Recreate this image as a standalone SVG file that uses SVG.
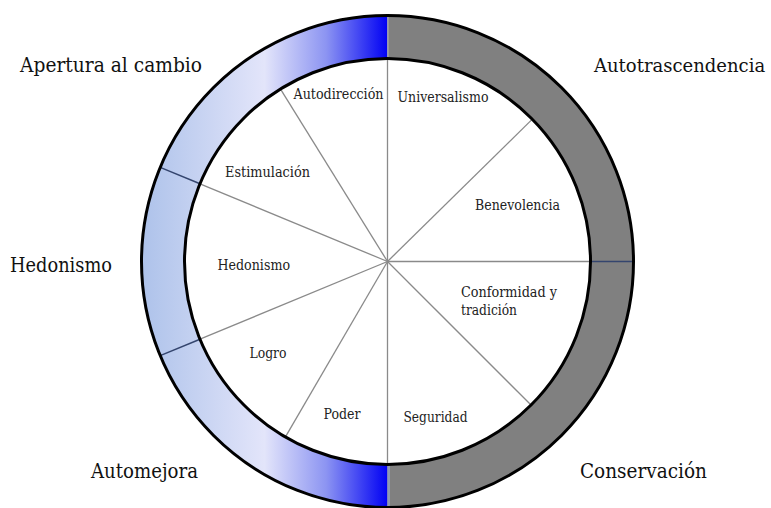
<svg xmlns="http://www.w3.org/2000/svg" width="771" height="508" viewBox="0 0 771 508">
<style>
text{font-family:'DejaVu Serif',serif}
.outer{font-size:21px;fill:#111}
.inner{font-size:14px;fill:#222}
.div{stroke:#8a8a8a;stroke-width:1.3;fill:none}
.ringdiv{stroke:#34456e;stroke-width:1.5;fill:none}
.edge{fill:none;stroke:#000;stroke-width:3}
</style>
<defs>
<linearGradient id="blueGrad" gradientUnits="userSpaceOnUse" x1="141" y1="0" x2="388" y2="0">
<stop offset="0" stop-color="#adc2ea"/>
<stop offset="0.5" stop-color="#e3e5fa"/>
<stop offset="0.75" stop-color="#8c94f2"/>
<stop offset="1" stop-color="#0000f4"/>
</linearGradient>
</defs>
<rect width="771" height="508" fill="#fff"/>
<g id="ring">
<path d="M387.5 15.5 A246 246 0 0 0 387.5 507.5 L387.5 464.5 A203 203 0 0 1 387.5 58.5 Z" fill="url(#blueGrad)"/>
<path d="M387.5 15.5 A246 246 0 0 1 387.5 507.5 L387.5 464.5 A203 203 0 0 0 387.5 58.5 Z" fill="#808080"/>
<circle cx="387.5" cy="261.5" r="203" fill="#fff"/>
<line x1="388" y1="16" x2="388" y2="58" stroke="#b0b0b0" stroke-width="1"/>
<line x1="389" y1="465" x2="389" y2="507" stroke="#9fb4e0" stroke-width="1"/>
</g>
<g id="connectors">
<line class="div" x1="387.5" y1="58.5" x2="387.5" y2="464.5" stroke-width="1.6"/>
<line class="div" x1="387.5" y1="261.5" x2="591" y2="261.5" stroke="#777"/>
<line class="ringdiv" x1="591" y1="261.5" x2="634" y2="261.5" stroke="#333"/>
<line class="div" x1="387.5" y1="261.5" x2="281" y2="89.8"/>
<line class="div" x1="387.5" y1="261.5" x2="531.6" y2="119.9"/>
<line class="div" x1="387.5" y1="261.5" x2="530.8" y2="404.8"/>
<line class="div" x1="387.5" y1="261.5" x2="285.9" y2="436.1"/>
<line class="div" x1="387.5" y1="261.5" x2="200" y2="183.8" stroke="#666"/>
<line class="div" x1="387.5" y1="261.5" x2="200" y2="339.2" stroke="#666"/>
<line class="ringdiv" x1="200" y1="183.8" x2="160.2" y2="167.4"/>
<line class="ringdiv" x1="200" y1="339.2" x2="160.2" y2="355.6"/>
</g>
<g id="edges">
<circle class="edge" cx="387.5" cy="261.5" r="246"/>
<circle class="edge" cx="387.5" cy="261.5" r="203"/>
</g>
<g id="label-apertura"><text class="outer" x="20" y="72" textLength="182" lengthAdjust="spacingAndGlyphs">Apertura al cambio</text></g>
<g id="label-autotrascendencia"><text class="outer" x="594" y="72" style="font-size:18px">Autotrascendencia</text></g>
<g id="label-hedonismo-outer"><text class="outer" x="10" y="272" textLength="102" lengthAdjust="spacingAndGlyphs">Hedonismo</text></g>
<g id="label-automejora"><text class="outer" x="91" y="477.5" textLength="107" lengthAdjust="spacingAndGlyphs">Automejora</text></g>
<g id="label-conservacion"><text class="outer" x="580" y="477.5" textLength="127" lengthAdjust="spacingAndGlyphs">Conservación</text></g>
<g id="node-autodireccion"><text class="inner" x="293.5" y="98.5" textLength="90" lengthAdjust="spacingAndGlyphs">Autodirección</text></g>
<g id="node-universalismo"><text class="inner" x="397.5" y="101.5" textLength="91" lengthAdjust="spacingAndGlyphs">Universalismo</text></g>
<g id="node-estimulacion"><text class="inner" x="225" y="176.5" textLength="85" lengthAdjust="spacingAndGlyphs">Estimulación</text></g>
<g id="node-benevolencia"><text class="inner" x="475" y="209.5" textLength="85" lengthAdjust="spacingAndGlyphs">Benevolencia</text></g>
<g id="node-hedonismo"><text class="inner" x="217.5" y="269.5" textLength="72.5" lengthAdjust="spacingAndGlyphs">Hedonismo</text></g>
<g id="node-conformidad"><text class="inner" x="461" y="296.5" textLength="96" lengthAdjust="spacingAndGlyphs">Conformidad y</text><text class="inner" x="461" y="315" textLength="56" lengthAdjust="spacingAndGlyphs">tradición</text></g>
<g id="node-logro"><text class="inner" x="249.5" y="358" textLength="37" lengthAdjust="spacingAndGlyphs">Logro</text></g>
<g id="node-poder"><text class="inner" x="323.5" y="419" textLength="37" lengthAdjust="spacingAndGlyphs">Poder</text></g>
<g id="node-seguridad"><text class="inner" x="403.5" y="422" textLength="64" lengthAdjust="spacingAndGlyphs">Seguridad</text></g>
</svg>
